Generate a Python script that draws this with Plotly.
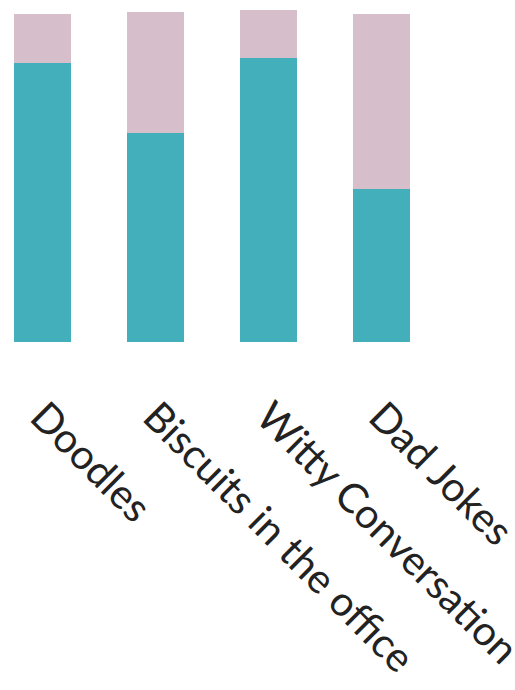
import plotly.graph_objects as go

categories = ["Doodles", "Biscuits in the office", "Witty Conversation", "Dad Jokes"]
teal_values = [85.2, 63.8, 87.0, 46.8]
pink_values = [15.0, 37.0, 14.4, 53.4]

TEAL = "#42AFBB"
PINK = "#D7BECB"

fig = go.Figure()
fig.add_trace(go.Bar(x=categories, y=teal_values, marker=dict(color=TEAL, line=dict(width=0)),
                     hoverinfo="skip"))
fig.add_trace(go.Bar(x=categories, y=pink_values, marker=dict(color=PINK, line=dict(width=0)),
                     hoverinfo="skip"))

fig.update_layout(
    width=515, height=690,
    barmode="stack", bargap=0.495,
    showlegend=False,
    margin=dict(l=0, r=0, t=0, b=348, pad=0, autoexpand=False),
    paper_bgcolor="white", plot_bgcolor="white",
    font=dict(family="Lato, Open Sans, sans-serif", color="#222222", size=41),
    xaxis=dict(
        type="category", range=[-0.3756, 4.186], automargin=False,
        tickangle=45, ticks="outside", ticklen=33, tickcolor="rgba(0,0,0,0)",
        showline=False, showgrid=False, zeroline=False,
        tickfont=dict(size=41, color="#222222"),
    ),
    yaxis=dict(range=[0, 104.6], visible=False, showgrid=False, zeroline=False,
               automargin=False),
)

fig.write_html("out.html")
